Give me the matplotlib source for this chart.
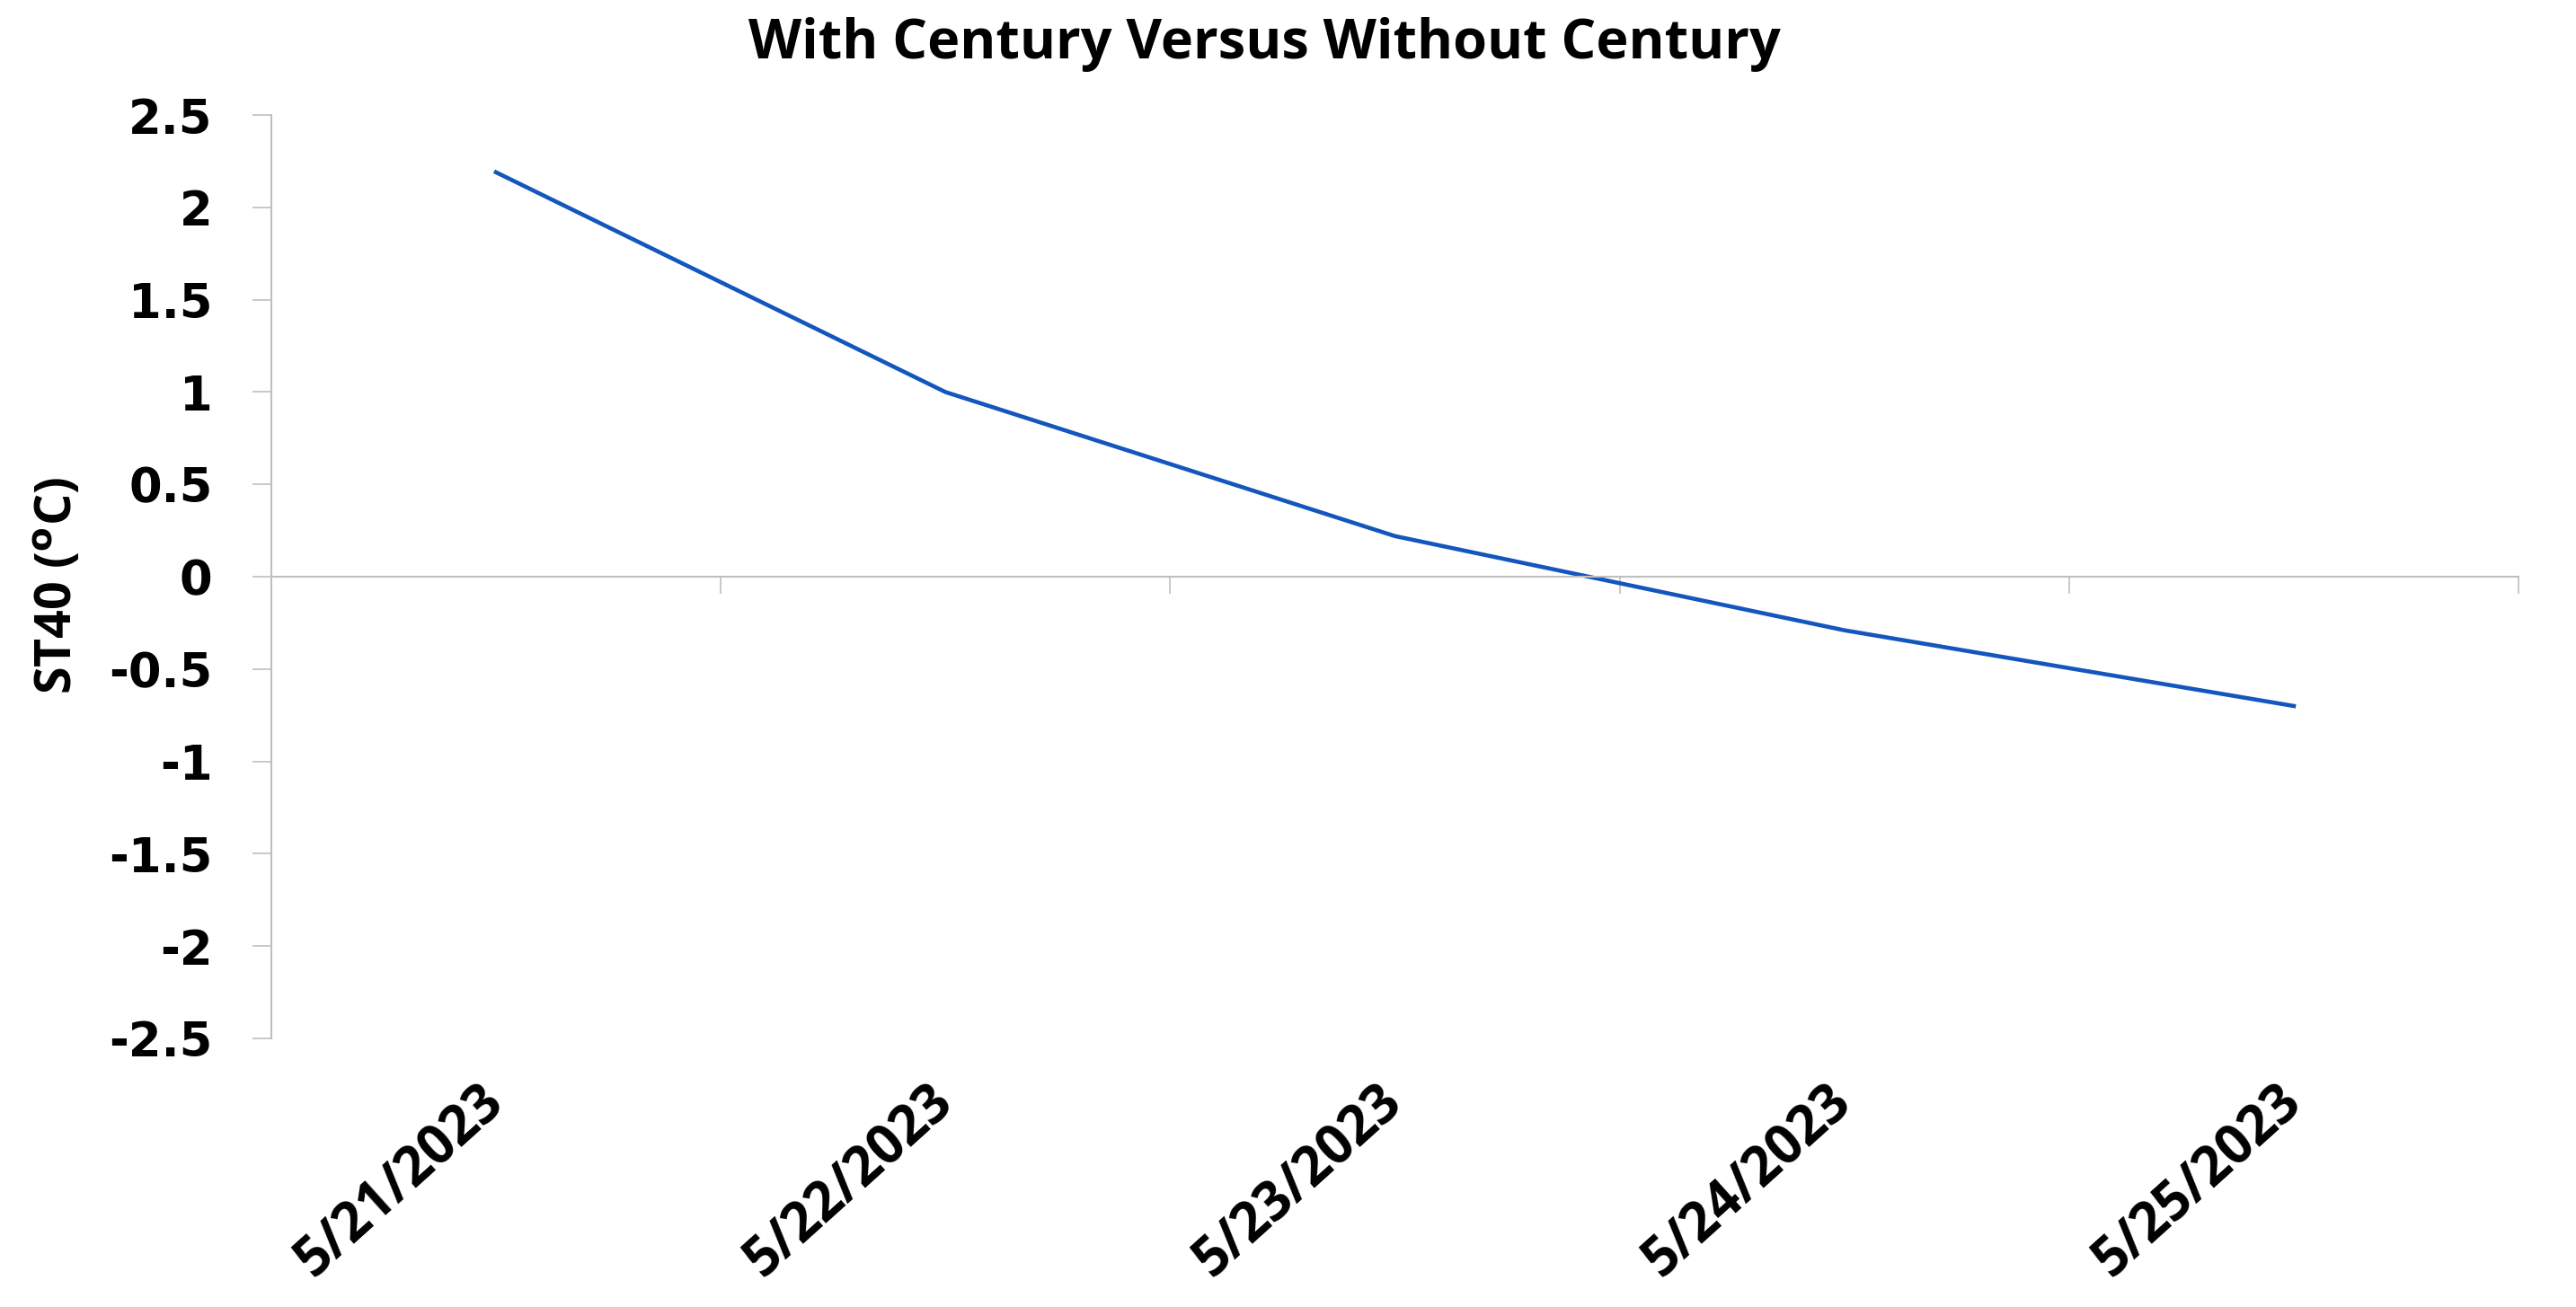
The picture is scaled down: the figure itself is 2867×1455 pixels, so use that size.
import numpy as np
from matplotlib import pyplot as plt

dates = ['5/21/2023', '5/22/2023', '5/23/2023', '5/24/2023', '5/25/2023']
st40_diff = [2.19, 1.0, 0.22, -0.29, -0.70]
y_ticks = [2.5, 2, 1.5, 1, 0.5, 0, -0.5, -1, -1.5, -2, -2.5]

GRAY = '#bfbfbf'
BLUE = '#1356bd'

fig = plt.figure(figsize=(28.67, 14.55), dpi=100)
ax = fig.add_axes([0.1053, 0.2055, 0.9777 - 0.1053, 0.912 - 0.2055])

x = np.arange(len(dates))
ax.plot(x, st40_diff, color=BLUE, lw=3.3, solid_joinstyle='round')

ax.set_xlim(-0.5, len(dates) - 0.5)
ax.set_ylim(-2.5, 2.5)

# y axis: gray spine, outward ticks, bold labels
ax.spines['left'].set_color(GRAY)
ax.spines['left'].set_linewidth(1.5)
ax.spines['right'].set_visible(False)
ax.spines['top'].set_visible(False)
ax.set_yticks(y_ticks)
ax.set_yticklabels([f'{v:g}' for v in y_ticks])
ax.tick_params(axis='y', length=15, width=1.2, color=GRAY, pad=32,
               labelsize=38)
for lbl in ax.get_yticklabels():
    lbl.set_fontweight('bold')
    lbl.set_family('DejaVu Sans')

# x axis line sits at zero, ticks between categories
ax.spines['bottom'].set_position(('data', 0))
ax.spines['bottom'].set_color(GRAY)
ax.spines['bottom'].set_linewidth(1.5)
ax.set_xticks(np.arange(len(dates) + 1) - 0.5)
ax.tick_params(axis='x', length=14, width=1.2, color=GRAY, labelbottom=False)

# category labels stay at the bottom of the plot area
sec = ax.secondary_xaxis('bottom')
sec.spines['bottom'].set_visible(False)
sec.set_xticks(x)
sec.set_xticklabels(dates, rotation=42, ha='right', va='center',
                    rotation_mode='anchor', fontsize=43, fontweight='bold',
                    family='Open Sans')
sec.tick_params(axis='x', length=0, pad=46)

fig.text(0.491, 0.955, 'With Century Versus Without Century', ha='center',
         va='baseline', fontsize=44, fontweight='bold', family='Open Sans')
fig.text(0.0227, 0.552, r'ST40 ($^{\mathbf{o}}$C)', rotation=90, ha='center',
         va='center', fontsize=40, fontweight='bold', family='Open Sans')

fig.savefig('out.png', dpi=100, facecolor='white')
